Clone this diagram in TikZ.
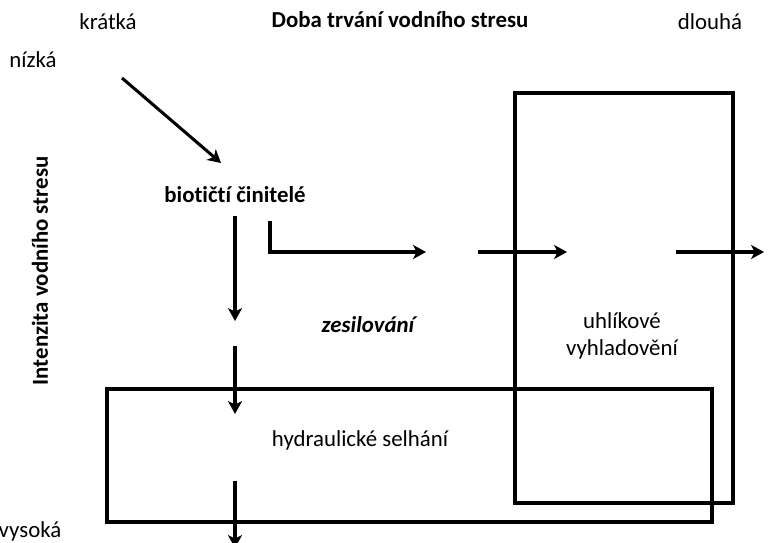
\documentclass[tikz,border=0pt]{standalone}
\usepackage{fontspec}
\setmainfont[RawFeature={-liga;-clig;-calt;-dlig}]{Carlito}
\usetikzlibrary{arrows.meta}

\tikzset{
  lbl/.style={font=\fontsize{19.5}{23}\selectfont},
  hdr/.style={font=\fontsize{19.5}{23}\selectfont\bfseries},
  arr/.style={draw,line width=2.6pt,-{Stealth[length=11pt,width=12pt,inset=3pt]}},
  frame/.style={draw,line width=3.4pt}
}

\begin{document}
\begin{tikzpicture}[x=0.03cm,y=-0.03cm]
    \useasboundingbox (0,0) rectangle (771,543);

    % axis labels
    \node[lbl] (kratka) at (108,22) {krátká};
    \node[hdr] (doba) at (400,20) {Doba trvání vodního stresu};
    \node[lbl] (dlouha) at (710,22) {dlouhá};
    \node[lbl] (nizka) at (33,60) {nízká};
    \node[lbl,inner sep=1pt] (vysoka) at (30,531) {vysoká};
    \node[hdr,rotate=90] (inten) at (40,271) {Intenzita vodního stresu};

    % boxes
    \draw[frame] (107,389) rectangle (712,522);
    \draw[frame] (515,93) rectangle (733,503);

    \node[hdr] (biot) at (235,195) {biotičtí činitelé};
    \node[hdr,font=\fontsize{19.5}{23}\selectfont\bfseries\itshape] (zesil) at (368,325) {zesilování};
    \node[lbl] (hydr) at (360,440) {hydraulické selhání};
    \node[lbl,align=center] (uhlik) at (622,336) {uhlíkové\\vyhladovění};

    \coordinate (d0) at (122,78);
    \coordinate (d1) at (221,163);
    \coordinate (v0) at (235,216);
    \coordinate (v1) at (235,321);
    \coordinate (v2) at (235,346);
    \coordinate (v3) at (235,414);
    \coordinate (v4) at (235,481);
    \coordinate (v5) at (235,548);
    \coordinate (h0) at (270,221);
    \coordinate (h1) at (270,252);
    \coordinate (h2) at (426,252);
    \coordinate (h3) at (478,252);
    \coordinate (h4) at (567,252);
    \coordinate (h5) at (676,252);
    \coordinate (h6) at (764,252);

    \path[arr] (d0) -- (d1);
    \path[arr] (v0) -- (v1);
    \path[arr] (v2) -- (v3);
    \path[arr] (v4) -- (v5);
    \path[arr] (h0) -- (h1) -- (h2);
    \path[arr] (h3) -- (h4);
    \path[arr] (h5) -- (h6);
\end{tikzpicture}
\end{document}
